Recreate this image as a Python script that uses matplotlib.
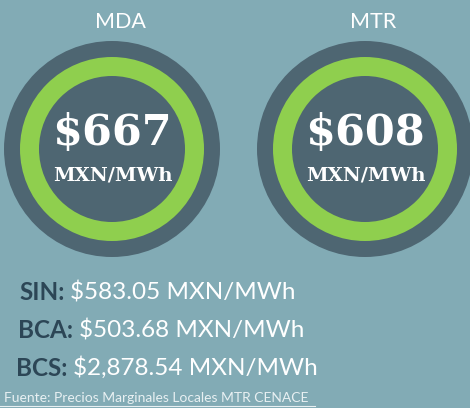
import matplotlib.pyplot as plt
from matplotlib.patches import Circle

# data
markets = ["MDA", "MTR"]
prices = [667, 608]
unit = "MXN/MWh"
systems = ["SIN:", "BCA:", "BCS:"]
system_prices = [583.05, 503.68, 2878.54]
source = "Fuente: Precios Marginales Locales MTR CENACE"

BG = "#82abb5"
DARK = "#4e6672"
GREEN = "#8fcf4e"
LABEL = "#2c4656"

fig = plt.figure(figsize=(4.7, 4.08), dpi=100, facecolor=BG)
ax = fig.add_axes([0, 0, 1, 1])
ax.set_xlim(0, 470)
ax.set_ylim(408, 0)
ax.set_aspect("equal")
ax.axis("off")

centers_x = [112, 365]
cy = 149
for cx, name, p in zip(centers_x, markets, prices):
    ax.add_patch(Circle((cx, cy), 108, color=DARK, lw=0))
    ax.add_patch(Circle((cx, cy), 92, color=GREEN, lw=0))
    ax.add_patch(Circle((cx, cy), 73, color=DARK, lw=0))
    ax.text(cx + 8, 22, name, ha="center", va="center", color="white",
            fontsize=15.5, family="Lato")
    ax.text(cx, 133, f"${p}", ha="center", va="center", color="white",
            fontsize=31, family="DejaVu Serif", weight="heavy")
    ax.text(cx + 1, 176, unit, ha="center", va="center", color="white",
            fontsize=14, family="DejaVu Serif", weight="bold")

rows_y = [292, 330, 368]
rows_x = [19, 18, 16]
for x, y, s, v in zip(rows_x, rows_y, systems, system_prices):
    lab = ax.text(x, y, s, ha="left", va="center", color=LABEL,
                  fontsize=17.5, family="Lato", weight="bold")
    ax.annotate(f"${v:,.2f} {unit}", xy=(1, 0.5), xycoords=lab,
                xytext=(4, 0), textcoords="offset points", ha="left",
                va="center", color="white", fontsize=17.5, family="Lato")

ax.text(4, 398, source, ha="left", va="center", color="#e8f0f2",
        fontsize=10, family="Lato")
ax.plot([0, 315], [406, 406], color="#e8f0f2", lw=0.8)

fig.savefig("out.png", dpi=100, facecolor=BG)
